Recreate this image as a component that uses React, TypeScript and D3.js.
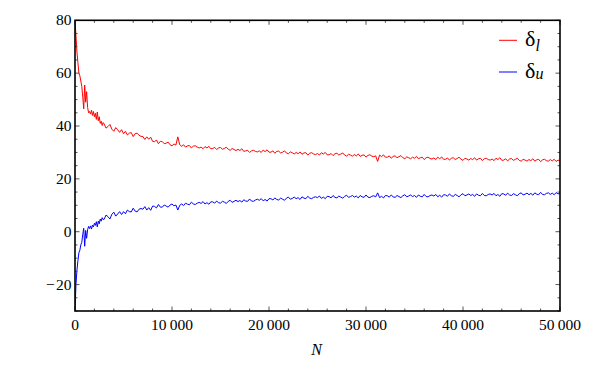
import React from "react";
import * as d3 from "d3";

// sample positions (N)
const nEarly: number[] = d3.range(0, 3000, 100);
const nLate: number[] = d3.range(3000, 50001, 200);
const nValues: number[] = [...nEarly, ...nLate];

const deltaLEarly: number[] = [
  80, 74, 68, 64, 60, 59, 57, 55, 51, 46.5,
  55.5, 49, 53, 47, 45, 45.5, 44.5, 46, 44, 45.5,
  43.5, 44.8, 42.5, 45.3, 42, 43.5, 41, 41.8, 40.2, 41.3,
];
const deltaLLate: number[] = [
  40.8, 39.2, 39.8, 40.6, 38.8, 38.0, 39.4, 38.6, 37.6, 38.6,
  37.1, 38.0, 36.6, 37.3, 37.5, 36.0, 37.1, 37.3, 36.5, 36.1,
  36.0, 34.9, 35.9, 35.0, 35.8, 34.2, 34.1, 34.7, 33.3, 34.2,
  34.1, 33.3, 33.5, 33.9, 32.9, 32.5, 33.2, 32.8, 35.9, 32.9,
  32.3, 32.9, 32.0, 32.5, 32.6, 31.7, 32.4, 32.5, 32.0, 31.7,
  32.0, 31.4, 32.2, 31.7, 32.3, 31.4, 31.5, 31.9, 31.1, 31.7,
  31.9, 31.2, 31.5, 32.0, 31.2, 30.8, 31.5, 31.1, 30.7, 31.2,
  30.7, 31.4, 30.4, 30.6, 30.8, 30.0, 30.6, 30.8, 30.4, 30.2,
  30.6, 30.0, 30.9, 30.3, 31.0, 30.1, 30.1, 30.6, 29.7, 30.4,
  30.5, 29.8, 30.1, 30.6, 29.8, 29.5, 30.2, 29.9, 29.4, 30.0,
  29.5, 30.2, 29.3, 29.8, 29.9, 29.0, 29.7, 29.9, 29.4, 29.2,
  29.6, 29.0, 29.9, 29.4, 30.0, 29.1, 29.1, 29.6, 28.8, 29.5,
  29.7, 29.0, 29.4, 29.8, 29.0, 28.6, 29.3, 29.0, 28.6, 29.2,
  28.7, 29.4, 28.5, 28.9, 29.1, 28.2, 28.9, 29.1, 28.6, 28.4,
  28.7, 26.6, 29.0, 28.4, 29.1, 28.2, 28.2, 28.7, 27.8, 28.5,
  28.7, 28.0, 28.4, 28.8, 28.0, 27.6, 28.3, 28.0, 27.6, 28.2,
  27.8, 28.5, 27.6, 28.0, 28.2, 27.3, 28.0, 28.2, 27.7, 27.5,
  27.9, 27.3, 28.2, 27.6, 28.3, 27.4, 27.4, 27.9, 27.1, 27.8,
  28.0, 27.3, 27.7, 28.2, 27.4, 27.0, 27.8, 27.5, 27.1, 27.7,
  27.3, 28.0, 27.1, 27.6, 27.8, 26.9, 27.6, 27.8, 27.3, 27.1,
  27.5, 26.9, 27.8, 27.3, 28.0, 27.0, 27.1, 27.6, 26.8, 27.5,
  27.7, 27.0, 27.4, 27.8, 27.0, 26.7, 27.4, 27.1, 26.7, 27.3,
  26.9, 27.6, 26.7, 27.2, 27.4, 26.5, 27.2, 27.4, 26.9, 26.7,
  27.3, 26.8, 27.4, 26.6, 27.1, 26.8,
];

const deltaUEarly: number[] = [
  -30, -20, -14.5, -11, -8, -7, -5, -4, -1, 1.3,
  -5.5, 0.5, -2.5, 0.8, 2.0, 1.2, 2.2, 1.0, 2.5, 1.8,
  3.2, 2.4, 3.8, 1.8, 4.0, 3.0, 4.8, 4.0, 5.3, 4.6,
];
const deltaULate: number[] = [
  4.7, 6.3, 5.7, 4.8, 6.6, 7.4, 5.9, 6.7, 7.6, 6.5,
  7.6, 6.8, 8.2, 7.6, 7.5, 8.9, 7.8, 7.5, 8.5, 8.8,
  8.5, 9.5, 8.2, 9.1, 8.1, 9.7, 9.6, 9.0, 10.3, 9.3,
  9.3, 10.1, 9.7, 9.3, 10.1, 10.5, 9.8, 10.1, 8.2, 10.0,
  10.5, 9.9, 10.8, 10.4, 10.2, 11.2, 10.5, 10.3, 10.8, 11.1,
  10.7, 11.4, 10.5, 11.0, 10.4, 11.3, 11.3, 10.8, 11.6, 11.0,
  10.8, 11.5, 11.2, 10.7, 11.5, 11.9, 11.1, 11.5, 11.9, 11.4,
  11.8, 11.2, 12.1, 11.6, 11.5, 12.4, 11.6, 11.5, 12.0, 12.3,
  11.9, 12.5, 11.7, 12.2, 11.6, 12.5, 12.5, 12.0, 12.8, 12.2,
  12.0, 12.7, 12.3, 11.9, 12.7, 13.1, 12.3, 12.6, 13.1, 12.5,
  12.9, 12.2, 13.2, 12.7, 12.5, 13.4, 12.7, 12.5, 13.0, 13.2,
  12.9, 13.5, 12.6, 13.1, 12.5, 13.4, 13.3, 12.8, 13.7, 13.0,
  12.8, 13.5, 13.1, 12.7, 13.4, 13.8, 13.0, 13.3, 13.7, 13.1,
  13.5, 12.8, 13.7, 13.2, 13.0, 13.9, 13.1, 12.9, 13.4, 13.6,
  13.2, 14.7, 12.9, 13.4, 12.8, 13.7, 13.6, 13.1, 13.9, 13.2,
  13.0, 13.7, 13.3, 12.9, 13.6, 14.0, 13.2, 13.5, 13.9, 13.3,
  13.7, 13.0, 13.9, 13.4, 13.2, 14.1, 13.3, 13.2, 13.7, 13.9,
  13.5, 14.1, 13.2, 13.8, 13.1, 14.0, 13.9, 13.4, 14.3, 13.6,
  13.4, 14.1, 13.7, 13.2, 14.0, 14.4, 13.6, 13.9, 14.3, 13.7,
  14.1, 13.4, 14.3, 13.8, 13.6, 14.5, 13.7, 13.6, 14.1, 14.3,
  13.9, 14.5, 13.6, 14.1, 13.4, 14.4, 14.3, 13.8, 14.6, 13.9,
  13.7, 14.4, 14.0, 13.6, 14.4, 14.7, 13.9, 14.2, 14.6, 14.0,
  14.5, 13.8, 14.7, 14.2, 14.0, 14.9, 14.1, 14.0, 14.5, 14.7,
  14.1, 14.6, 14.0, 14.8, 14.3, 14.6,
];

const deltaL: number[] = [...deltaLEarly, ...deltaLLate];
const deltaU: number[] = [...deltaUEarly, ...deltaULate];

const xMajorTicks: number[] = [0, 10000, 20000, 30000, 40000, 50000];
const xTickLabels: string[] = ["0", "10\u2009000", "20\u2009000", "30\u2009000", "40\u2009000", "50\u2009000"];
const yMajorTicks: number[] = [-20, 0, 20, 40, 60, 80];
const yTickLabels: string[] = ["\u2212\u200A20", "0", "20", "40", "60", "80"];

const W = 596;
const H = 369;
const L = 75, R = 560, T = 20.3, B = 311;

export default function App() {
  const x = d3.scaleLinear().domain([0, 50000]).range([L, R]);
  const y = d3.scaleLinear().domain([-30, 80]).range([B, T]);
  const xMinor = d3.range(0, 50001, 2000).filter((v) => v % 10000 !== 0);
  const yMinor = d3.range(-30, 81, 5).filter((v) => v % 20 !== 0);

  const line = d3
    .line<number>()
    .x((_, i) => x(nValues[i]))
    .y((d) => y(d));

  const font = "'Liberation Serif', 'Times New Roman', serif";
  const tickCol = "#555";

  return (
    <svg width={W} height={H} style={{ position: "absolute", left: 0, top: 0, display: "block", background: "#fff" }}>
      <defs>
        <clipPath id="plotclip">
          <rect x={L} y={T} width={R - L} height={B - T} />
        </clipPath>
      </defs>
      <g clipPath="url(#plotclip)">
        <path d={line(deltaL) || ""} fill="none" stroke="#ff0000" strokeWidth={1} />
        <path d={line(deltaU) || ""} fill="none" stroke="#0000ff" strokeWidth={1} />
      </g>
      {/* ticks */}
      <g stroke={tickCol} strokeWidth={1}>
        {xMajorTicks.map((v) => (
          <g key={"xm" + v}>
            <line x1={x(v)} x2={x(v)} y1={B} y2={B - 4.5} />
            <line x1={x(v)} x2={x(v)} y1={T} y2={T + 4.5} />
          </g>
        ))}
        {xMinor.map((v) => (
          <g key={"xn" + v}>
            <line x1={x(v)} x2={x(v)} y1={B} y2={B - 2.5} />
            <line x1={x(v)} x2={x(v)} y1={T} y2={T + 2.5} />
          </g>
        ))}
        {yMajorTicks.map((v) => (
          <g key={"ym" + v}>
            <line x1={L} x2={L + 4.5} y1={y(v)} y2={y(v)} />
            <line x1={R} x2={R - 4.5} y1={y(v)} y2={y(v)} />
          </g>
        ))}
        {yMinor.map((v) => (
          <g key={"yn" + v}>
            <line x1={L} x2={L + 2.5} y1={y(v)} y2={y(v)} />
            <line x1={R} x2={R - 2.5} y1={y(v)} y2={y(v)} />
          </g>
        ))}
      </g>
      <rect x={L} y={T} width={R - L} height={B - T} fill="none" stroke="#000" strokeWidth={1.6} />
      {/* tick labels */}
      <g fontFamily={font} fontSize={15.5} fill="#000">
        {xMajorTicks.map((v, i) => (
          <text key={"xl" + v} x={x(v)} y={329.5} textAnchor="middle">
            {xTickLabels[i]}
          </text>
        ))}
        {yMajorTicks.map((v, i) => (
          <text key={"yl" + v} x={71.5} y={y(v) + 5} textAnchor="end">
            {yTickLabels[i]}
          </text>
        ))}
      </g>
      <text x={316.5} y={355} textAnchor="middle" fontFamily={font} fontSize={16} fontStyle="italic">
        N
      </text>
      {/* legend */}
      <line x1={499} x2={517} y1={40.3} y2={40.3} stroke="#ff0000" strokeWidth={1} />
      <line x1={499} x2={517} y1={72} y2={72} stroke="#0000ff" strokeWidth={1} />
      <text x={525} y={45.5} fontFamily={font} fontSize={22}>
        δ
        <tspan fontSize={16} fontStyle="italic" dy={5}>l</tspan>
      </text>
      <text x={525} y={77.5} fontFamily={font} fontSize={22}>
        δ
        <tspan fontSize={16} fontStyle="italic" dy={1}>u</tspan>
      </text>
    </svg>
  );
}
